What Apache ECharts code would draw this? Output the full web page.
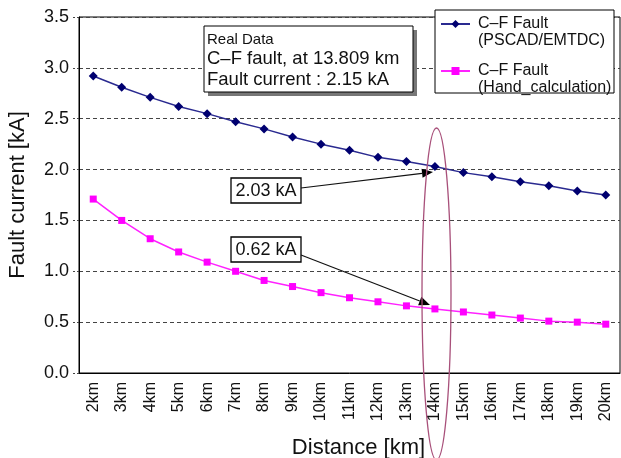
<!DOCTYPE html>
<html>
<head>
<meta charset="utf-8">
<script src="https://cdn.jsdelivr.net/npm/echarts@6/dist/echarts.min.js"></script>
<style>html,body{margin:0;padding:0;background:#fff;}#c{width:621px;height:458px;}</style>
</head>
<body>
<div id="c"></div>
<script>
const categories = ['2km','3km','4km','5km','6km','7km','8km','9km','10km','11km','12km','13km','14km','15km','16km','17km','18km','19km','20km'];
const pscadValues = [2.92,2.81,2.71,2.62,2.55,2.47,2.40,2.32,2.25,2.19,2.12,2.08,2.03,1.97,1.93,1.88,1.84,1.79,1.75];
const handValues = [1.71,1.50,1.32,1.19,1.09,1.00,0.91,0.85,0.79,0.74,0.70,0.66,0.63,0.60,0.57,0.54,0.51,0.50,0.48];
const yTicks = [0,0.5,1.0,1.5,2.0,2.5,3.0,3.5];
const seriesNames = ['C\u2013F Fault\n(PSCAD/EMTDC)', 'C\u2013F Fault\n(Hand_calculation)'];
const noteLines = ['Real Data', 'C\u2013F fault, at 13.809 km', 'Fault current : 2.15 kA'];
const calloutTexts = ['2.03 kA', '0.62 kA'];

const FONT = 'Liberation Sans, Arial, Helvetica, sans-serif';

function arrow(x1, y1, x2, y2) {
  const ang = Math.atan2(y2 - y1, x2 - x1);
  const L = 11, W = 4.5;
  const bx = x2 - L * Math.cos(ang), by = y2 - L * Math.sin(ang);
  const px = -Math.sin(ang) * W, py = Math.cos(ang) * W;
  return [
    {type: 'line', z: 6, shape: {x1: x1, y1: y1, x2: bx, y2: by}, style: {stroke: '#111', lineWidth: 1.2}},
    {type: 'polygon', z: 6, shape: {points: [[x2, y2], [bx + px, by + py], [bx - px, by - py]]}, style: {fill: '#000'}}
  ];
}

const chart = echarts.init(document.getElementById('c'), null, {renderer: 'canvas'});
const option = {
  animation: false,
  backgroundColor: '#fff',
  textStyle: {fontFamily: FONT},
  grid: {left: 79, right: 1, top: 17, bottom: 85, show: true, borderColor: '#000', borderWidth: 1, containLabel: false, outerBoundsMode: 'none'},
  legend: {
    orient: 'vertical', left: 440, top: -1.5, padding: 0, z: 8,
    itemWidth: 29, itemHeight: 10, itemGap: -4,
    formatter: function (name) { return ' \n' + name; },
    textStyle: {fontFamily: FONT, fontSize: 16, color: '#111', lineHeight: 17, padding: [0, 0, 0, 3]},
    data: seriesNames
  },
  xAxis: {
    type: 'category', data: categories, boundaryGap: true,
    axisLine: {lineStyle: {color: '#000', width: 1}},
    axisTick: {inside: true, length: 4, alignWithLabel: false, lineStyle: {color: '#000'}},
    axisLabel: {rotate: 90, fontSize: 16, margin: 9, color: '#111', fontFamily: FONT, interval: 0},
    splitLine: {show: false},
    name: 'Distance [km]', nameLocation: 'middle', nameGap: 64,
    nameTextStyle: {fontSize: 22, color: '#111', fontFamily: FONT, padding: [0, 0, 0, 18]}
  },
  yAxis: {
    type: 'value', min: 0, max: 3.5, interval: 0.5,
    axisLine: {show: true, lineStyle: {color: '#000', width: 1}},
    axisTick: {show: true, inside: false, length: 6, lineStyle: {color: '#444', type: [2, 2]}},
    axisLabel: {fontSize: 18, margin: 10, color: '#111', fontFamily: FONT, formatter: function (v) { return v.toFixed(1); }},
    splitLine: {show: true, lineStyle: {color: '#444', width: 1, type: [4, 3]}},
    name: 'Fault current [kA]', nameLocation: 'middle', nameGap: 50,
    nameTextStyle: {fontSize: 22, color: '#111', fontFamily: FONT}
  },
  series: [
    {
      name: seriesNames[0], type: 'line', data: pscadValues, z: 3,
      symbol: 'diamond', symbolSize: 9,
      lineStyle: {color: '#2a2a90', width: 1.5},
      itemStyle: {color: '#000070'}
    },
    {
      name: seriesNames[1], type: 'line', data: handValues, z: 3,
      symbol: 'rect', symbolSize: 7,
      lineStyle: {color: '#ff22ff', width: 1.5},
      itemStyle: {color: '#ff00ff'}
    }
  ],
  graphic: [
    // legend frame
    {type: 'rect', z: 5, shape: {x: 435, y: 10, width: 179, height: 83}, style: {fill: '#fff', stroke: '#000', lineWidth: 1}},
    // note box with shadow
    {type: 'rect', z: 5, shape: {x: 208, y: 30, width: 209, height: 66}, style: {fill: '#777'}},
    {type: 'rect', z: 5, shape: {x: 204, y: 26, width: 209, height: 66}, style: {fill: '#fff', stroke: '#000', lineWidth: 1}},
    {type: 'text', z: 6, style: {x: 207, y: 40, text: noteLines[0], font: '15px ' + FONT, fill: '#111', textVerticalAlign: 'middle', verticalAlign: 'middle'}},
    {type: 'text', z: 6, style: {x: 207, y: 58.5, text: noteLines[1], font: '18.5px ' + FONT, fill: '#111', textVerticalAlign: 'middle', verticalAlign: 'middle'}},
    {type: 'text', z: 6, style: {x: 207, y: 80, text: noteLines[2], font: '18.5px ' + FONT, fill: '#111', textVerticalAlign: 'middle', verticalAlign: 'middle'}},
    // callout boxes
    {type: 'rect', z: 5, shape: {x: 231, y: 178, width: 70, height: 25}, style: {fill: '#fff', stroke: '#000', lineWidth: 1.3}},
    {type: 'text', z: 6, style: {x: 266, y: 191, text: calloutTexts[0], font: '18px ' + FONT, fill: '#111', align: 'center', textAlign: 'center', verticalAlign: 'middle', textVerticalAlign: 'middle'}},
    {type: 'rect', z: 5, shape: {x: 231, y: 237, width: 70, height: 25}, style: {fill: '#fff', stroke: '#000', lineWidth: 1.3}},
    {type: 'text', z: 6, style: {x: 266, y: 250, text: calloutTexts[1], font: '18px ' + FONT, fill: '#111', align: 'center', textAlign: 'center', verticalAlign: 'middle', textVerticalAlign: 'middle'}},
    // ellipse
    {type: 'ellipse', z: 7, shape: {cx: 436.5, cy: 294, rx: 14.5, ry: 166}, style: {fill: 'none', stroke: '#a8507a', lineWidth: 1.3}}
  ].concat(arrow(301, 188, 433, 172)).concat(arrow(301, 255, 430, 305))
};
chart.setOption(option);
</script>
</body>
</html>
